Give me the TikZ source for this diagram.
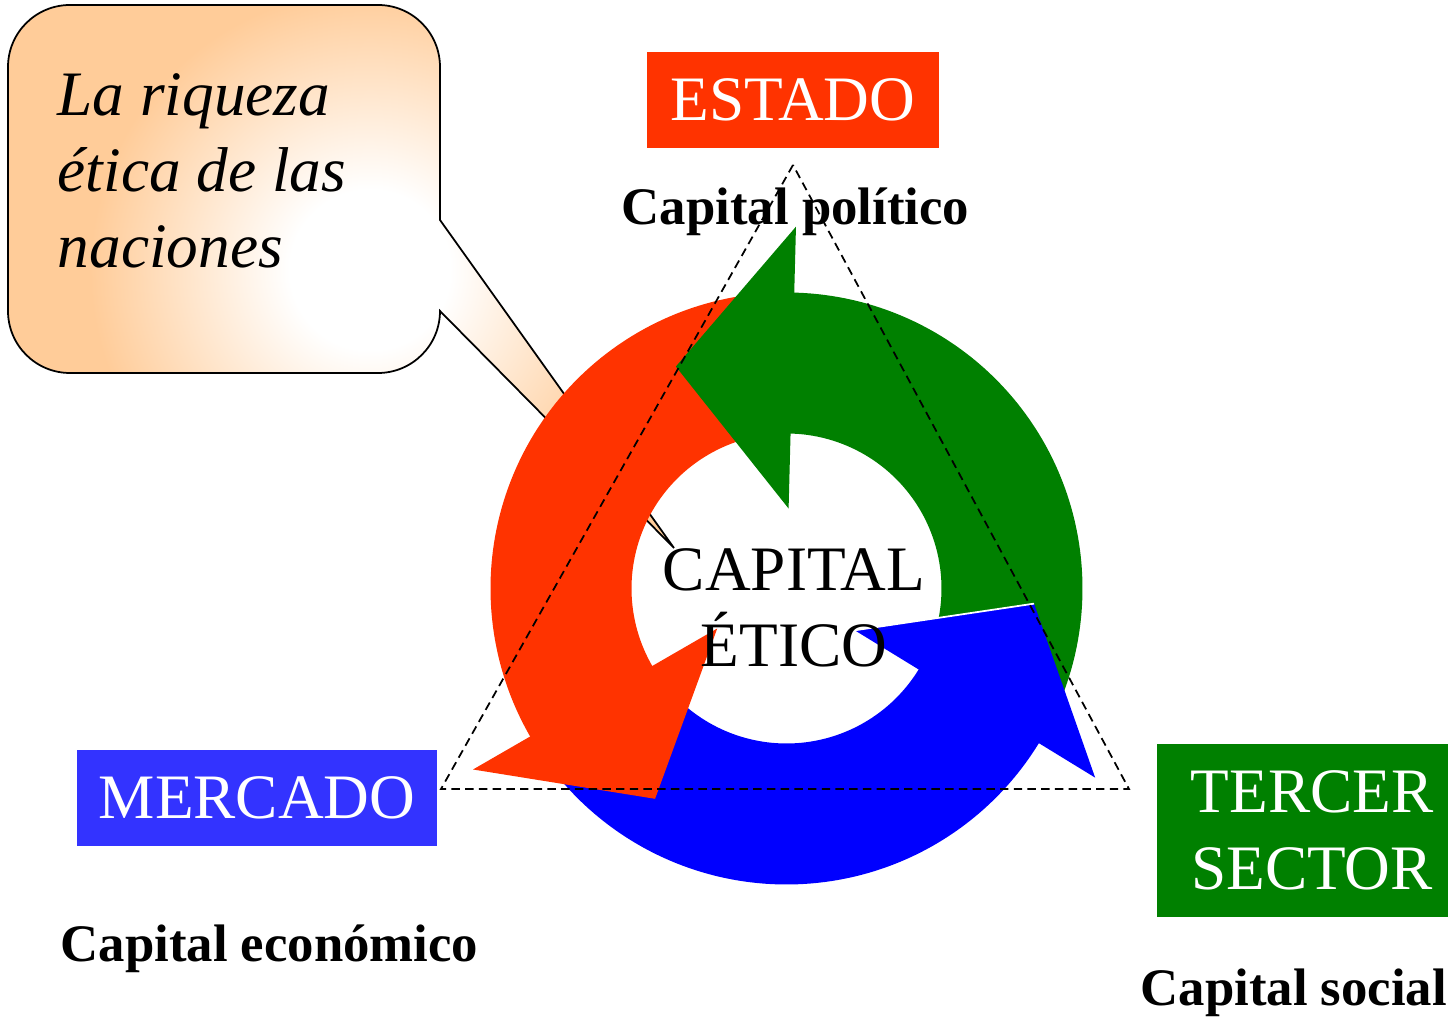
\documentclass[tikz,border=0pt]{standalone}
\usepackage{fontspec}
\setmainfont{Liberation Serif}
\definecolor{estadored}{RGB}{255,51,0}
\definecolor{sectorgreen}{RGB}{0,128,0}
\definecolor{mercadoblue}{RGB}{51,51,255}
\definecolor{arrowblue}{RGB}{0,0,255}
\definecolor{peach}{RGB}{255,204,153}
\pgfdeclareradialshading{calloutglow}{\pgfpoint{0bp}{0bp}}{color(0bp)=(white); color(4bp)=(white); color(14bp)=(peach); color(50bp)=(peach)}
\newcommand{\balloonpath}{(70,1013) -- (378,1013) arc[start angle=90, end angle=0, radius=62] -- (440,798) -- (674,470) -- (440,707) arc[start angle=0, end angle=-90, radius=62] -- (70,645) arc[start angle=270, end angle=180, radius=62] -- (8,951) arc[start angle=180, end angle=90, radius=62] -- cycle}
\tikzset{
  actor/.style={text=white, font=\fontsize{18}{21.8}\selectfont, inner sep=0pt, align=center},
  capital/.style={font=\fontsize{15}{18}\selectfont\bfseries, inner sep=0pt, anchor=base},
  bigtext/.style={font=\fontsize{18}{21.6}\selectfont, inner sep=0pt},
  triangle/.style={line width=0.5pt, dash pattern=on 2.4pt off 1.5pt}
}
\begin{document}
\begin{tikzpicture}[x=0.01cm, y=0.01cm]
  \useasboundingbox (0,0) rectangle (1448,1018);

  \begin{scope}
    \clip \balloonpath;
    \shade[shading=calloutglow] (-130,248) rectangle (870,1248);
  \end{scope}
  \draw[line width=0.5pt] \balloonpath;
  \node[bigtext, font=\fontsize{18}{21.6}\selectfont\itshape, align=left, anchor=west] (riqueza) at (57,847.5) {La riqueza\\ética de las\\naciones};

  \begin{scope}[shift={(786.5,429.5)}]
    \foreach \a/\c in {88.5/sectorgreen, 210/estadored, 328.5/arrowblue}
      \fill[\c] (\a-111:296) arc[start angle=\a-111, end angle=\a+1, radius=296]
        -- (\a+1:155) arc[start angle=\a+1, end angle=\a-111, radius=155] -- cycle;
    \foreach \a/\c in {88.5/sectorgreen, 210/estadored, 328.5/arrowblue}
      \fill[\c] (\a:362) -- (\a+28:248) -- (\a:80) -- cycle;
    \draw[white, line width=0.5pt] (328.5:80) -- (356.5:248);
  \end{scope}

  \node[bigtext, align=center] (etico) at (794,410) {CAPITAL\\ÉTICO};

  \node[actor, fill=estadored, minimum width=2.92cm, minimum height=0.96cm] (estado) at (793,918) {ESTADO};
  \node[actor, fill=mercadoblue, minimum width=3.6cm, minimum height=0.96cm] (mercado) at (257,220) {MERCADO};
  \node[actor, fill=sectorgreen, minimum width=3.1cm, minimum height=1.73cm] (tercer) at (1312,187.5) {TERCER\\SECTOR};

  \node[capital] (politico) at (795.5,793) {Capital político};
  \node[capital, anchor=base west] (economico) at (60,56) {Capital económico};
  \node[capital, anchor=base west] (social) at (1140,12) {Capital social};

  \coordinate (apex) at (793,853);
  \coordinate (baseL) at (441,229);
  \coordinate (baseR) at (1129,229);
  \draw[triangle] (apex) -- (baseL) -- (baseR) -- cycle;
\end{tikzpicture}
\end{document}
